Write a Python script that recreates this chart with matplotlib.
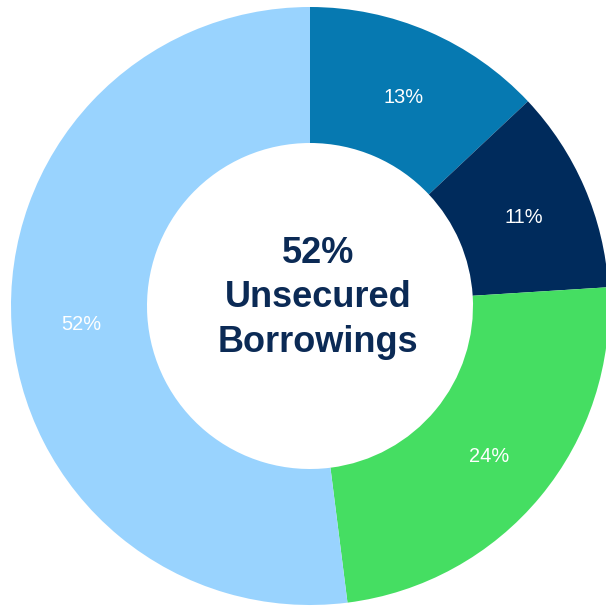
import matplotlib.pyplot as plt

labels = ['Segment A', 'Segment B', 'Segment C', 'Unsecured Borrowings']
shares = [13, 11, 24, 52]
colors = ['#0679B1', '#002B5C', '#45DE62', '#99D3FE']
center_text = '52%\nUnsecured\nBorrowings'

plt.rcParams['font.family'] = ['Liberation Sans', 'DejaVu Sans']

fig = plt.figure(figsize=(6.06, 6.06), dpi=100)
ax = fig.add_axes([0, 0, 1, 1])

outer = 299.0
inner = 163.0
cx, cy = 310.0, 306.0
wedges, texts, autotexts = ax.pie(
    shares, colors=colors, startangle=90, counterclock=False,
    radius=1.0, autopct='%d%%', pctdistance=(inner + outer) / 2 / outer,
    wedgeprops=dict(width=(outer - inner) / outer, edgecolor='none'),
    textprops=dict(color='white', fontsize=14.4))

# labels sit a touch lower and to the right in the original
for t in autotexts:
    x, y = t.get_position()
    t.set_position((x + 1.5 / outer, y - 3.5 / outer))

ax.text(8 / outer, 8 / outer, center_text, ha='center', va='center', fontsize=26,
        fontweight='bold', color='#0B2A55', linespacing=1.36)

# place the ring centre at pixel (cx, cy), measured from top-left
ax.set_xlim(-cx / outer, (606 - cx) / outer)
ax.set_ylim(-(606 - cy) / outer, cy / outer)
ax.set_aspect('auto')
ax.axis('off')

fig.savefig('out.png', dpi=100)
